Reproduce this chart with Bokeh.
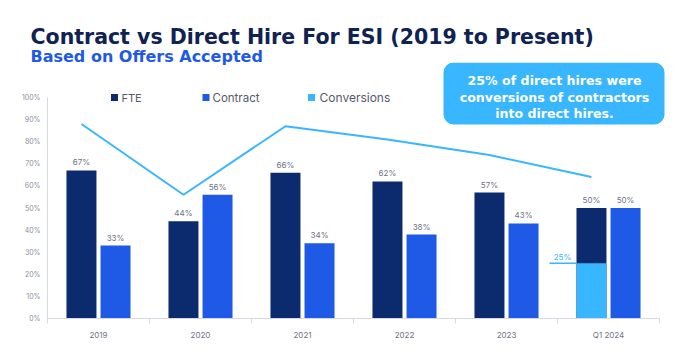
from bokeh.plotting import figure
from bokeh.models import Range1d, FixedTicker, BoxAnnotation, ColumnDataSource, LinearAxis, Title
from bokeh.core.properties import value
from bokeh.embed import file_html
from bokeh.resources import INLINE

# ---------------- data ----------------
categories = ["2019", "2020", "2021", "2022", "2023", "Q1 2024"]
fte = [67, 44, 66, 62, 57, 50]
contract = [33, 56, 34, 38, 43, 50]
conversion_rate = [88, 56, 87, 81, 74, 64]
q1_conversions = 25
y_ticks = list(range(0, 101, 10))
series_names = ["FTE", "Contract", "Conversions"]
title_text = "Contract vs Direct Hire For ESI (2019 to Present)"
subtitle_text = "Based on Offers Accepted"
callout_lines = ["25% of direct hires were", "conversions of contractors", "into direct hires."]

# ---------------- layout / style ----------------
W, H = 685, 352
TOP = 62
LEFT, BOTTOM = 47, 34
CAT_PX = 102.0
PCT_PX = 2.21
BAR_W = 0.294
OFF = 0.167
C_FTE = "#0C2A6E"
C_CON = "#1F5AE6"
C_CONV = "#38B6FF"
C_TITLE = "#0F2252"
C_GRAY = "#6E7385"
C_AXIS = "#D5D9E3"
FONT = "Inter"
TFONT = "DejaVu Sans"

frame_w = W - LEFT
frame_h = H - BOTTOM - TOP


def px_x(px):
    return (px - LEFT) / CAT_PX


def px_y(py):
    return (frame_h - (py - TOP)) / PCT_PX


p = figure(width=W, height=H, output_backend="svg", toolbar_location=None,
           x_range=Range1d(0, frame_w / CAT_PX), y_range=Range1d(0, frame_h / PCT_PX),
           min_border_left=LEFT, min_border_bottom=BOTTOM, min_border_top=TOP, min_border_right=0,
           x_axis_type=None, y_axis_type=None)
p.outline_line_color = None

# titles (first added sits closest to the frame)
p.add_layout(Title(text=subtitle_text, align="left", offset=-17, standoff=-6,
                   text_font_size="16px", text_font_style="bold", text_color=C_CON,
                   text_font=TFONT), "above")
p.add_layout(Title(text=title_text, align="left", offset=-17, standoff=-2,
                   text_font_size="20.5px", text_font_style="bold", text_color=C_TITLE,
                   text_font=TFONT), "above")

yaxis = LinearAxis(ticker=FixedTicker(ticks=y_ticks), bounds=(0, 100),
                   major_label_overrides={t: f"{t}%" for t in y_ticks},
                   axis_line_color=C_AXIS, major_tick_line_color=None, minor_tick_line_color=None,
                   major_tick_out=0, major_tick_in=0,
                   major_label_text_font_size="7px", major_label_text_color="#8A8FA0",
                   major_label_standoff=7, major_label_text_font=FONT)
p.add_layout(yaxis, "left")

n = len(categories)
centers = [i + 0.5 for i in range(n)]
xaxis = LinearAxis(ticker=FixedTicker(ticks=centers, minor_ticks=list(range(n + 1))), bounds=(0, n),
                   major_label_overrides={c: cat for c, cat in zip(centers, categories)},
                   major_tick_line_color=None, major_tick_out=0, major_tick_in=0,
                   minor_tick_out=5, minor_tick_in=0, minor_tick_line_color=C_AXIS,
                   axis_line_color=C_AXIS, major_label_text_font_size="8px",
                   major_label_text_color=C_GRAY, major_label_standoff=6, major_label_text_font=FONT)
p.add_layout(xaxis, "below")

# bars
x_fte = [c - OFF for c in centers]
x_con = [c + OFF for c in centers]
src = ColumnDataSource(dict(x_fte=x_fte, x_con=x_con, fte=fte, contract=contract,
                            conv=conversion_rate,
                            fte_lbl=[f"{v}%" for v in fte], con_lbl=[f"{v}%" for v in contract]))
p.vbar(x="x_fte", top="fte", width=BAR_W, source=src, fill_color=C_FTE, line_color=None)
p.vbar(x="x_con", top="contract", width=BAR_W, source=src, fill_color=C_CON, line_color=None)
p.vbar(x=[x_fte[-1]], top=[q1_conversions], width=BAR_W, fill_color=C_CONV, line_color=None)

p.text(x="x_fte", y="fte", text="fte_lbl", source=src, text_align="center", text_baseline="bottom",
       y_offset=-3, text_font_size="8px", text_color=C_GRAY, text_font=value(FONT))
p.text(x="x_con", y="contract", text="con_lbl", source=src, text_align="center", text_baseline="bottom",
       y_offset=-3, text_font_size="8px", text_color=C_GRAY, text_font=value(FONT))

# conversion line
p.line(x="x_fte", y="conv", source=src, line_color=C_CONV, line_width=2)

# Q1 conversions leader + label
p.segment(x0=[px_x(549)], y0=[q1_conversions], x1=[x_fte[-1] - BAR_W / 2], y1=[q1_conversions],
          line_color=C_CONV, line_width=1.5)
p.text(x=[px_x(562)], y=[q1_conversions], text=[f"{q1_conversions}%"], text_align="center",
       text_baseline="bottom", y_offset=-1, text_font_size="8px", text_color=C_CONV, text_font=value(FONT))

# legend (manual)
leg_sq = [114, 205.5, 311]
leg_tx = [121, 212, 319]
leg_col = [C_FTE, C_CON, C_CONV]
leg_size = ["11px", "11.5px", "12px"]
for sx, tx, col, name, fs in zip(leg_sq, leg_tx, leg_col, series_names, leg_size):
    p.scatter(x=[px_x(sx)], y=[100], marker="square", size=7, fill_color=col, line_color=None)
    p.text(x=[px_x(tx)], y=[100], text=[name], text_baseline="middle", text_align="left",
           text_font_size=fs, text_color="#555A6B", text_font=value(FONT))

# callout
p.add_layout(BoxAnnotation(left=px_x(443), right=px_x(664), top=px_y(62), bottom=px_y(124),
                           fill_color=C_CONV, fill_alpha=1.0, line_color=None, border_radius=10,
                           level="underlay"))
for line, py in zip(callout_lines, [80, 97, 113]):
    p.text(x=[px_x(554)], y=[px_y(py)], text=[line], text_align="center", text_baseline="middle",
           text_font_size="12.6px", text_font_style="bold", text_color="white", text_font=value(TFONT))

open("out.html", "w").write(file_html(p, INLINE))
